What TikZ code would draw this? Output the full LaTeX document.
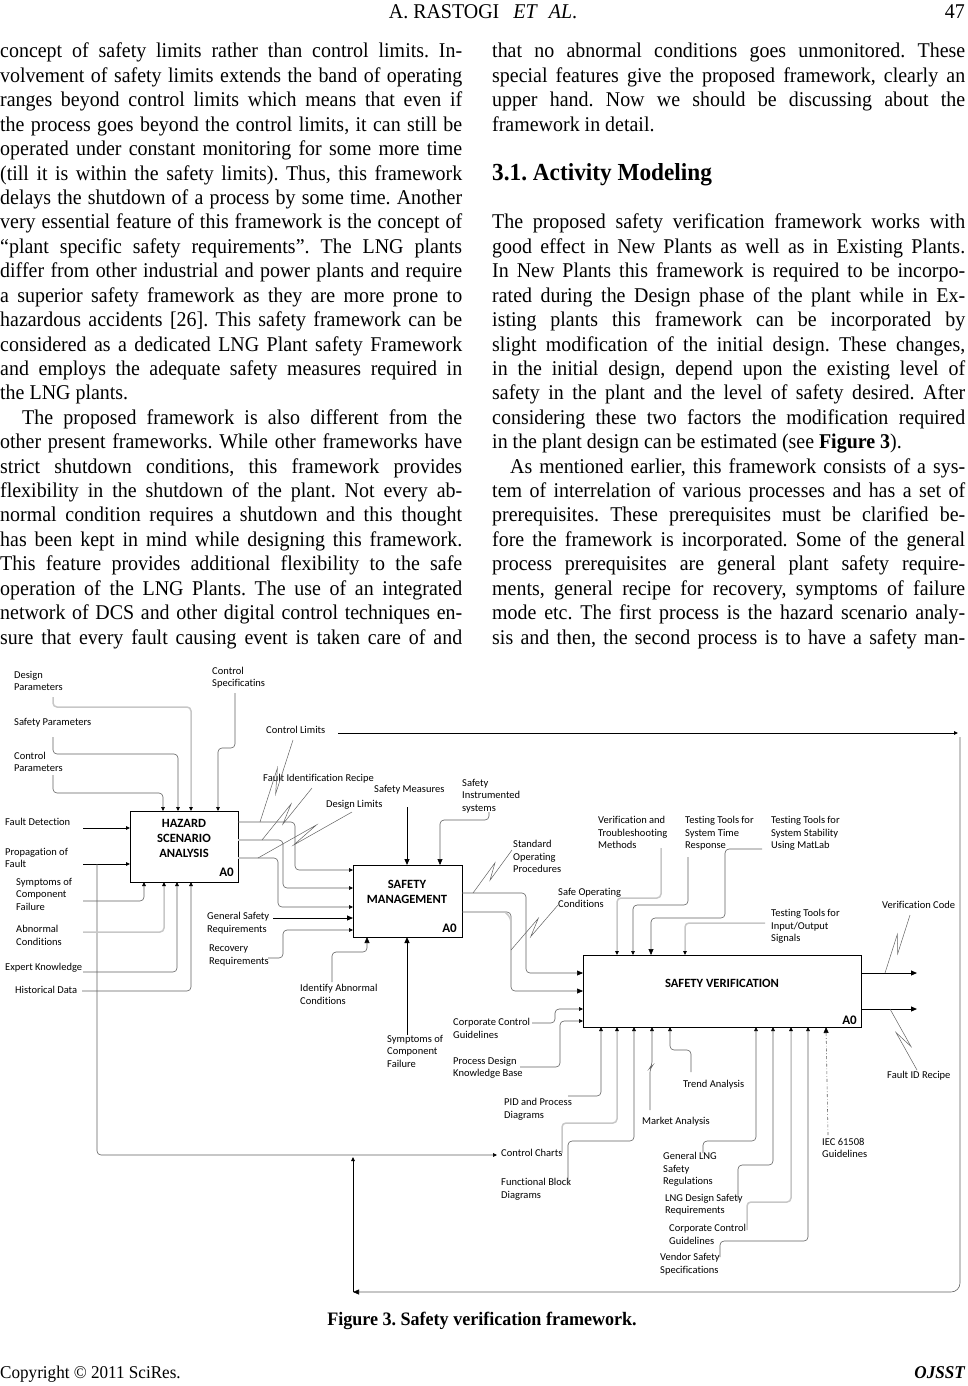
\documentclass[tikz,border=0pt]{standalone}
\usepackage{fontspec}
\setmainfont{Liberation Serif}
\newfontfamily\bodyf[FakeStretch=0.95]{Liberation Serif}
\newfontfamily\dfont[Ligatures={NoCommon}]{Carlito}
\usetikzlibrary{arrows.meta,calc}
\definecolor{dg}{gray}{0.38}
\definecolor{lgc}{gray}{0.78}
\frenchspacing
\newcommand\LL[3]{\node[bt] (#1) at (0,{58+24.42*#2}) {\makebox[462pt][s]{#3}};}
\newcommand\LLf[3]{\node[bt] (#1) at (0,{58+24.42*#2}) {#3};}
\newcommand\RL[3]{\node[bt] (#1) at (492,{58+24.42*#2}) {\makebox[473pt][s]{#3}};}
\newcommand\RLf[3]{\node[bt] (#1) at (492,{58+24.42*#2}) {#3};}
\newcommand\sqg[2]{\draw[sq] (#1) -- ($(#1)!0.64!(#2)!4pt!90:(#2)$) -- ($(#1)!0.36!(#2)!4pt!-90:(#2)$) -- (#2);}
\begin{document}
\begin{tikzpicture}[x=1pt,y=-1pt,
 lbl/.style={font=\dfont\fontsize{10.5}{12.5}\selectfont, inner sep=0pt, anchor=north west, align=left, yshift=5pt},
 ttl/.style={font=\dfont\bfseries\fontsize{12.6}{15}\selectfont, align=center, inner sep=0pt},
 a0/.style={font=\dfont\bfseries\fontsize{13}{15}\selectfont, inner sep=0pt, anchor=east},
 box/.style={draw, line width=0.9pt, inner sep=0pt, anchor=north west},
 ln/.style={draw=dg, line width=0.6pt, rounded corners=4pt},
 lg/.style={draw=lgc, line width=1.5pt, rounded corners=4pt},
 lk/.style={draw=black, line width=1pt},
 sq/.style={draw=dg, line width=0.5pt},
 ar/.style={-{Triangle[length=4pt,width=3.6pt,color=black]}},
 arb/.style={-{Triangle[length=6pt,width=5pt,color=black]}},
 bt/.style={font=\bodyf\fontsize{21}{24}\selectfont, inner sep=0pt, anchor=base west},
]
\useasboundingbox (0,0) rectangle (967,1386);
% ---------- header / footer ----------
\node[font=\bodyf\fontsize{21}{24}\selectfont, inner sep=0pt, anchor=base] (hdr) at (483,19) {A. RASTOGI\hspace{14pt}\textit{ET}\hspace{11pt}\textit{AL}.};
\node[font=\bodyf\fontsize{21}{24}\selectfont, inner sep=0pt, anchor=base east] (pg) at (965,19) {47};
\node[font=\bodyf\fontsize{18}{20}\selectfont, inner sep=0pt, anchor=base west] (cpy) at (0,1378) {Copyright © 2011 SciRes.};
\node[font=\bodyf\bfseries\itshape\fontsize{18}{20}\selectfont, inner sep=0pt, anchor=base east] (jn) at (965,1378) {OJSST};
\node[font=\bodyf\bfseries\fontsize{19}{22}\selectfont, inner sep=0pt, anchor=base] (cap) at (482,1325) {Figure 3. Safety verification framework.};
% ---------- left column ----------
\LL{l0}{0}{concept of safety limits rather than control limits. In-}
\LL{l1}{1}{volvement of safety limits extends the band of operating}
\LL{l2}{2}{ranges beyond control limits which means that even if}
\LL{l3}{3}{the process goes beyond the control limits, it can still be}
\LL{l4}{4}{operated under constant monitoring for some more time}
\LL{l5}{5}{(till it is within the safety limits). Thus, this framework}
\LL{l6}{6}{delays the shutdown of a process by some time. Another}
\LL{l7}{7}{very essential feature of this framework is the concept of}
\LL{l8}{8}{“plant specific safety requirements”. The LNG plants}
\LL{l9}{9}{differ from other industrial and power plants and require}
\LL{l10}{10}{a superior safety framework as they are more prone to}
\LL{l11}{11}{hazardous accidents [26]. This safety framework can be}
\LL{l12}{12}{considered as a dedicated LNG Plant safety Framework}
\LL{l13}{13}{and employs the adequate safety measures required in}
\LLf{l14}{14}{the LNG plants.}
\LL{l15}{15}{\hspace*{22pt}The proposed framework is also different from the}
\LL{l16}{16}{other present frameworks. While other frameworks have}
\LL{l17}{17}{strict shutdown conditions, this framework provides}
\LL{l18}{18}{flexibility in the shutdown of the plant. Not every ab-}
\LL{l19}{19}{normal condition requires a shutdown and this thought}
\LL{l20}{20}{has been kept in mind while designing this framework.}
\LL{l21}{21}{This feature provides additional flexibility to the safe}
\LL{l22}{22}{operation of the LNG Plants. The use of an integrated}
\LL{l23}{23}{network of DCS and other digital control techniques en-}
\LL{l24}{24}{sure that every fault causing event is taken care of and}
% ---------- right column ----------
\RL{r0}{0}{that no abnormal conditions goes unmonitored. These}
\RL{r1}{1}{special features give the proposed framework, clearly an}
\RL{r2}{2}{upper hand. Now we should be discussing about the}
\RLf{r3}{3}{framework in detail.}
\node[font=\bodyf\bfseries\fontsize{24.5}{28}\selectfont, inner sep=0pt, anchor=base west] (hd) at (492,{58+24.42*5}) {3.1. Activity Modeling};
\RL{r7}{7}{The proposed safety verification framework works with}
\RL{r8}{8}{good effect in New Plants as well as in Existing Plants.}
\RL{r9}{9}{In New Plants this framework is required to be incorpo-}
\RL{r10}{10}{rated during the Design phase of the plant while in Ex-}
\RL{r11}{11}{isting plants this framework can be incorporated by}
\RL{r12}{12}{slight modification of the initial design. These changes,}
\RL{r13}{13}{in the initial design, depend upon the existing level of}
\RL{r14}{14}{safety in the plant and the level of safety desired. After}
\RL{r15}{15}{considering these two factors the modification required}
\RLf{r16}{16}{in the plant design can be estimated (see \textbf{Figure 3}).}
\RL{r17}{17}{\hspace*{18pt}As mentioned earlier, this framework consists of a sys-}
\RL{r18}{18}{tem of interrelation of various processes and has a set of}
\RL{r19}{19}{prerequisites. These prerequisites must be clarified be-}
\RL{r20}{20}{fore the framework is incorporated. Some of the general}
\RL{r21}{21}{process prerequisites are general plant safety require-}
\RL{r22}{22}{ments, general recipe for recovery, symptoms of failure}
\RL{r23}{23}{mode etc. The first process is the hazard scenario analy-}
\RL{r24}{24}{sis and then, the second process is to have a safety man-}
% ---------- boxes ----------
\node[box, minimum width=108pt, minimum height=71pt] (hz) at (130,811) {};
\node[ttl] (hzt) at (184,838) {HAZARD\\SCENARIO\\ANALYSIS};
\node[a0] (hza) at (234,872) {A0};
\node[box, minimum width=109pt, minimum height=72pt] (sm) at (353,865) {};
\node[ttl] (smt) at (407,892) {SAFETY\\MANAGEMENT};
\node[a0] (sma) at (457,928) {A0};
\node[box, minimum width=278pt, minimum height=72pt] (sv) at (583,955) {};
\node[ttl] (svt) at (722,983) {SAFETY VERIFICATION};
\node[a0] (sva) at (857,1020) {A0};
% ---------- labels ----------
\node[lbl] (dp) at (14,676) {Design\\Parameters};
\node[lbl] (sp) at (14,723) {Safety Parameters};
\node[lbl] (cpar) at (14,757) {Control\\Parameters};
\node[lbl] (cs) at (212,672) {Control\\Specificatins};
\node[lbl] (cl) at (266,731) {Control Limits};
\node[lbl] (fir) at (263,779) {Fault Identification Recipe};
\node[lbl] (smeas) at (374,790) {Safety Measures};
\node[lbl] (sis) at (462,784) {Safety\\Instrumented\\systems};
\node[lbl] (dl) at (326,805) {Design Limits};
\node[lbl] (fd) at (5,823) {Fault Detection};
\node[lbl] (pf) at (5,853) {Propagation of\\Fault};
\node[lbl] (scf1) at (16,883) {Symptoms of\\Component\\Failure};
\node[lbl] (ac) at (16,930) {Abnormal\\Conditions};
\node[lbl] (ek) at (5,968) {Expert Knowledge};
\node[lbl] (hd2) at (15,991) {Historical Data};
\node[lbl] (gsr) at (207,917) {General Safety\\Requirements};
\node[lbl] (rr) at (209,950) {Recovery\\Requirements};
\node[lbl] (iac) at (300,989) {Identify Abnormal\\Conditions};
\node[lbl] (scf2) at (387,1040) {Symptoms of\\Component\\Failure};
\node[lbl] (sop) at (513,845) {Standard\\Operating\\Procedures};
\node[lbl] (soc) at (558,893) {Safe Operating\\Conditions};
\node[lbl] (vtm) at (598,821) {Verification and\\Troubleshooting\\Methods};
\node[lbl] (tt1) at (685,821) {Testing Tools for\\System Time\\Response};
\node[lbl] (tt2) at (771,821) {Testing Tools for\\System Stability\\Using MatLab};
\node[lbl] (tt3) at (771,914) {Testing Tools for\\Input/Output\\Signals};
\node[lbl] (vc) at (882,906) {Verification Code};
\node[lbl] (ccg1) at (453,1023) {Corporate Control\\Guidelines};
\node[lbl] (pdk) at (453,1062) {Process Design\\Knowledge Base};
\node[lbl] (pid) at (504,1103) {PID and Process\\Diagrams};
\node[lbl] (ta) at (683,1085) {Trend Analysis};
\node[lbl] (ma) at (642,1122) {Market Analysis};
\node[lbl] (fidr) at (887,1076) {Fault ID Recipe};
\node[lbl] (cc) at (501,1154) {Control Charts};
\node[lbl] (iec) at (822,1143) {IEC 61508\\Guidelines};
\node[lbl] (glng) at (663,1157) {General LNG\\Safety\\Regulations};
\node[lbl] (fbd) at (501,1183) {Functional Block\\Diagrams};
\node[lbl] (lds) at (665,1199) {LNG Design Safety\\Requirements};
\node[lbl] (ccg2) at (669,1229) {Corporate Control\\Guidelines};
\node[lbl] (vss) at (660,1258) {Vendor Safety\\Specifications};
% ---------- HAZARD inputs ----------
\draw[lg,ar] (53,697) -- (53,707) -- (191,707) -- (191,811);
\draw[ln,ar] (53,737) -- (53,754) -- (178,754) -- (178,811);
\draw[ln,ar] (53,775) -- (53,793) -- (163,793) -- (163,811);
\draw[ln,ar] (235,693) -- (235,748) -- (218,748) -- (218,811);
\draw[lk,ar] (83,828) -- (130,828);
\draw[lk,ar] (83,864) -- (130,864);
\draw[ln,ar] (97,864) -- (97,1155) -- (497,1155);
\draw[ln,ar] (83,901) -- (144,901) -- (144,882);
\draw[lg,ar] (83,932) -- (164,932) -- (164,882);
\draw[ln,ar] (83,972) -- (177,972) -- (177,882);
\draw[ln,ar] (82,991) -- (191,991) -- (191,882);
% ---------- HAZARD outputs to SM ----------
\draw[ln,ar] (238,822) -- (295,822) -- (295,870) -- (353,870);
\draw[ln,ar] (238,840) -- (283,840) -- (283,888) -- (353,888);
\draw[ln,ar] (238,858) -- (278,858) -- (278,907) -- (353,907);
\draw[lg,rounded corners=0pt] (238,840) -- (279,840);
\draw[lg,rounded corners=0pt] (238,858) -- (274,858);
% ---------- SM inputs ----------
\draw[lk,arb] (273,918) -- (353,918);
\draw[ln,ar] (268,958) -- (283,958) -- (283,930) -- (353,930);
\draw[lk,arb] (407,807) -- (407,865);
\draw[ln,arb] (489,812) -- (489,820) -- (440,820) -- (440,865);
\draw[ln,arb] (332,982) -- (332,952) -- (367,952) -- (367,937);
\draw[lk,arb] (407,1035) -- (407,937);
% ---------- SM outputs to SV ----------
\draw[ln,arb] (462,893) -- (526,893) -- (526,973) -- (583,973);
\draw[ln,arb] (462,912) -- (511,912) -- (511,991) -- (583,991);
\draw[lg,rounded corners=4pt] (505,912) -- (511,918) -- (511,985);
% ---------- SV inputs ----------
\draw[ln,ar] (532,1023) -- (555,1023) -- (555,1009) -- (583,1009);
\draw[ln,ar] (520,1067) -- (560,1067) -- (560,1021) -- (583,1021);
\draw[lg,ar] (661,848) -- (661,898) -- (617,898) -- (617,955);
\draw[ln,ar] (688,857) -- (688,905) -- (633,905) -- (633,955);
\draw[ln,arb] (762,849) -- (725,849) -- (725,918) -- (651,918) -- (651,955);
\draw[lg,ar] (765,923) -- (685,923) -- (685,955);
\draw[lk,arb] (861,973) -- (917,973);
\draw[lk,arb] (861,1009) -- (917,1009);
\draw[ln,ar] (568,1096) -- (601,1096) -- (601,1027);
\draw[lg,ar] (562,1153) -- (562,1123) -- (617,1123) -- (617,1027);
\draw[ln,ar] (568,1185) -- (568,1141) -- (634,1141) -- (634,1027);
\draw[ln,ar] (650,1110) -- (650,1068) -- (652,1066) -- (652,1027);
\draw[ln,ar] (691,1072) -- (691,1050) -- (670,1050) -- (670,1027);
\draw[ln,ar] (703,1153) -- (703,1141) -- (756,1141) -- (756,1027);
\draw[ln,ar] (738,1200) -- (738,1165) -- (773,1165) -- (773,1027);
\draw[lg,ar] (747,1230) -- (747,1202) -- (791,1202) -- (791,1027);
\draw[ln,ar] (720,1257) -- (720,1241) -- (808,1241) -- (808,1027);
\draw[draw=dg, line width=0.6pt, dash dot, arb] (828,1135) -- (826,1027);
% ---------- control limits feedback ----------
\draw[lk,ar] (338,733) -- (958,733);
\draw[ln,rounded corners=9pt,arb] (960,737) -- (960,1292) -- (353,1292);
\draw[lk,ar] (353,1292) -- (353,1157);
% ---------- squiggles ----------
\coordinate (q1a) at (293,740); \coordinate (q1b) at (260,822);
\coordinate (q2a) at (312,788); \coordinate (q2b) at (262,840);
\coordinate (q3a) at (352,812); \coordinate (q3b) at (258,858);
\coordinate (q4a) at (512,850); \coordinate (q4b) at (473,893);
\coordinate (q5a) at (558,905); \coordinate (q5b) at (511,950);
\coordinate (q6a) at (910,915); \coordinate (q6b) at (885,973);
\coordinate (q7a) at (917,1070); \coordinate (q7b) at (890,1009);
\sqg{q1a}{q1b}
\sqg{q2a}{q2b}
\sqg{q3a}{q3b}
\sqg{q4a}{q4b}
\sqg{q5a}{q5b}
\sqg{q6a}{q6b}
\sqg{q7a}{q7b}
\end{tikzpicture}
\end{document}
